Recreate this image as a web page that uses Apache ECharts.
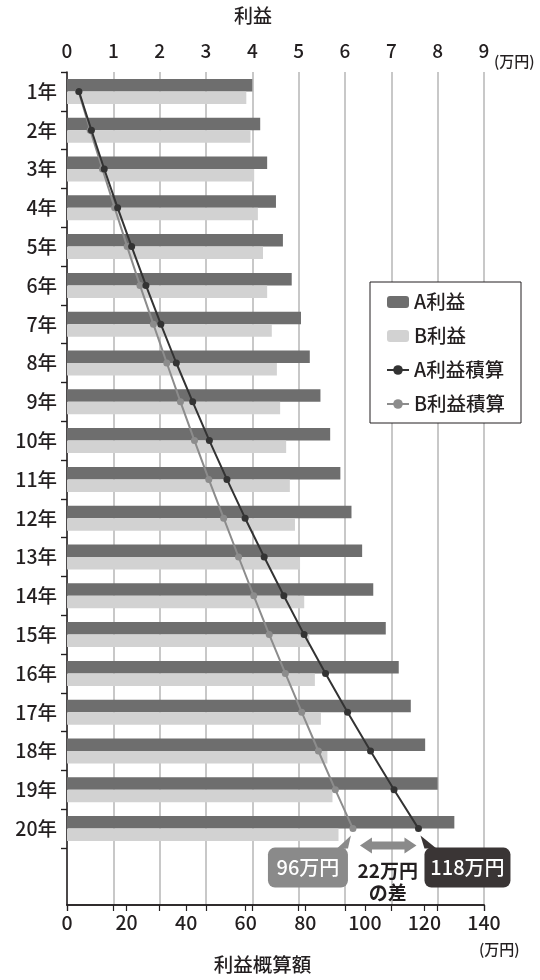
<!DOCTYPE html>
<html><head><meta charset="utf-8">
<script src="https://cdn.jsdelivr.net/npm/echarts@6/dist/echarts.min.js"></script>
<style>html,body{margin:0;padding:0;background:#fff}#c{width:540px;height:980px}</style>
</head><body><div id="c"></div>
<script>
const years = ['1年','2年','3年','4年','5年','6年','7年','8年','9年','10年','11年','12年','13年','14年','15年','16年','17年','18年','19年','20年'];
const profitA = [4.00,4.17,4.32,4.51,4.66,4.85,5.05,5.24,5.47,5.68,5.90,6.14,6.37,6.61,6.88,7.16,7.42,7.73,8.00,8.36];
const profitB = [3.87,3.96,4.04,4.12,4.23,4.32,4.42,4.53,4.60,4.73,4.81,4.92,5.03,5.12,5.23,5.35,5.48,5.62,5.73,5.86];
const cumA = [4.0,8.2,12.5,17.0,21.7,26.5,31.5,36.7,42.2,47.8,53.7,59.8,66.2,72.8,79.6,86.8,94.2,101.9,109.8,118.0];
const cumB = [3.9,7.8,11.9,16.0,20.2,24.5,29.0,33.5,38.1,42.8,47.6,52.6,57.6,62.7,67.9,73.3,78.8,84.4,90.1,96.0];
const topAxis = {min: 0, max: 9, interval: 1};
const bottomAxis = {min: 0, max: 140, interval: 20};
const seriesNames = ['A利益','B利益','A利益積算','B利益積算'];
const annotA = '118万円', annotB = '96万円', annotDiff = ['22万円','の差'];

const FONT = '"Noto Sans CJK JP","Noto Sans",sans-serif';
const INK = '#231f20';
const C_A = '#6e6e6e', C_B = '#d2d2d2', C_LA = '#333333', C_LB = '#8c8c8c', C_GRID = '#c8c8c8';
const LW = 500;

const chart = echarts.init(document.getElementById('c'), null, {renderer: 'canvas'});
const G = {left: 67, right: 56};
const option = {
  animation: false,
  backgroundColor: '#fff',
  textStyle: {fontFamily: FONT, color: INK},
  grid: [
    {left: G.left, right: G.right, top: 72, bottom: 75, outerBoundsMode: 'none', containLabel: false},
    {left: G.left, right: G.right, top: 72, bottom: 132, outerBoundsMode: 'none', containLabel: false}
  ],
  legend: {
    orient: 'vertical', left: 370, top: 282,
    data: seriesNames,
    backgroundColor: '#fff', borderColor: INK, borderWidth: 1, borderRadius: 0,
    padding: [10, 16, 9, 16],
    itemWidth: 22, itemHeight: 12, itemGap: 14,
    textStyle: {fontSize: 19.5, color: INK, lineHeight: 20, fontFamily: FONT, fontWeight: LW},
    selectedMode: false
  },
  xAxis: [
    {gridIndex: 0, type: 'value', position: 'top', min: topAxis.min, max: topAxis.max, interval: topAxis.interval,
     name: '利益', nameLocation: 'middle', nameGap: 47,
     nameTextStyle: {fontSize: 19, color: INK, fontFamily: FONT, fontWeight: LW, padding: [0, 45, 0, 0]},
     axisLine: {show: true, lineStyle: {color: INK, width: 1.5}},
     axisTick: {show: true, inside: true, length: 6, lineStyle: {color: INK, width: 1.2}},
     axisLabel: {fontSize: 19, color: INK, margin: 12, fontFamily: FONT, fontWeight: LW},
     splitLine: {show: true, lineStyle: {color: C_GRID, width: 2}}},
    {gridIndex: 0, type: 'value', position: 'bottom', min: bottomAxis.min, max: bottomAxis.max, interval: bottomAxis.interval,
     name: '利益概算額', nameLocation: 'middle', nameGap: 50,
     nameTextStyle: {fontSize: 19.5, color: INK, fontFamily: FONT, fontWeight: LW, padding: [0, 26, 0, 0]},
     axisLine: {show: true, lineStyle: {color: INK, width: 1.5}},
     axisTick: {show: true, inside: false, length: 6, lineStyle: {color: INK, width: 1.2}},
     axisLabel: {fontSize: 19.5, color: INK, margin: 8, fontFamily: FONT, fontWeight: LW},
     splitLine: {show: false}},
    {gridIndex: 1, type: 'value', show: false, min: topAxis.min, max: topAxis.max},
    {gridIndex: 1, type: 'value', show: false, min: bottomAxis.min, max: bottomAxis.max}
  ],
  yAxis: [
    {gridIndex: 0, type: 'value', min: 0, max: 1,
     axisLine: {show: true, lineStyle: {color: INK, width: 1.5}},
     axisTick: {show: false}, axisLabel: {show: false}, splitLine: {show: false}},
    {gridIndex: 1, type: 'category', data: years, inverse: true,
     axisLine: {show: false},
     axisTick: {show: true, inside: false, length: 6, lineStyle: {color: INK, width: 1.2}},
     axisLabel: {fontSize: 19.5, color: INK, margin: 10, fontFamily: FONT, fontWeight: LW},
     splitLine: {show: false}},
    {gridIndex: 1, type: 'category', data: years, inverse: true,
     axisLine: {show: false},
     axisTick: {show: true, inside: true, length: 6, lineStyle: {color: INK, width: 1.2}},
     axisLabel: {show: false}, splitLine: {show: false}}
  ],
  series: [
    {name: seriesNames[0], type: 'bar', xAxisIndex: 2, yAxisIndex: 1, data: profitA,
     barWidth: 12.5, barGap: '0%', itemStyle: {color: C_A}, z: 2},
    {name: seriesNames[1], type: 'bar', xAxisIndex: 2, yAxisIndex: 1, data: profitB,
     barWidth: 12.5, barGap: '0%', itemStyle: {color: C_B}, z: 2},
    {name: seriesNames[2], type: 'line', xAxisIndex: 3, yAxisIndex: 1,
     data: cumA.map((v, i) => [v, years[i]]),
     symbol: 'circle', symbolSize: 7, lineStyle: {color: C_LA, width: 2}, itemStyle: {color: C_LA}, z: 5},
    {name: seriesNames[3], type: 'line', xAxisIndex: 3, yAxisIndex: 1,
     data: cumB.map((v, i) => [v, years[i]]),
     symbol: 'circle', symbolSize: 7, lineStyle: {color: C_LB, width: 2}, itemStyle: {color: C_LB}, z: 4}
  ]
};
chart.setOption(option);

const last = years.length - 1;
const pA = chart.convertToPixel({xAxisIndex: 3, yAxisIndex: 1}, [cumA[last], years[last]]);
const pB = chart.convertToPixel({xAxisIndex: 3, yAxisIndex: 1}, [cumB[last], years[last]]);
const top0 = chart.convertToPixel({xAxisIndex: 0, yAxisIndex: 0}, [topAxis.max, 1]);
const bot0 = chart.convertToPixel({xAxisIndex: 1, yAxisIndex: 0}, [bottomAxis.max, 0]);
const bt = pB[1] + 19, bh = 40;
const ay = pB[1] + 17, ax1 = pB[0] + 7, ax2 = pA[0] - 2;
chart.setOption({graphic: [
  {type: 'text', left: top0[0] + 10, top: top0[1] - 18, style: {text: '(万円)', fontSize: 15, fill: INK, fontFamily: FONT, fontWeight: LW}},
  {type: 'text', left: bot0[0] - 5, top: bot0[1] + 37, style: {text: '(万円)', fontSize: 15, fill: INK, fontFamily: FONT, fontWeight: LW}},
  {type: 'polygon', shape: {points: [[pB[0]-16, bt+1], [pB[0]-5, bt+1], [pB[0]-2, pB[1]+7]]}, style: {fill: '#8a8a8a'}, z: 10},
  {type: 'rect', shape: {x: pB[0]-85, y: bt, width: 80, height: bh, r: 7}, style: {fill: '#8a8a8a'}, z: 10},
  {type: 'text', x: pB[0]-45, y: bt + bh/2, style: {text: annotB, fontSize: 20, fill: '#fff', fontFamily: FONT, fontWeight: LW, align: 'center', verticalAlign: 'middle'}, z: 11},
  {type: 'polygon', shape: {points: [[pA[0]+6, bt+1], [pA[0]+18, bt+1], [pA[0]+2, pA[1]+7]]}, style: {fill: '#3a3535'}, z: 10},
  {type: 'rect', shape: {x: pA[0]+6, y: bt, width: 86, height: bh, r: 7}, style: {fill: '#3a3535'}, z: 10},
  {type: 'text', x: pA[0]+49, y: bt + bh/2, style: {text: annotA, fontSize: 20, fill: '#fff', fontFamily: FONT, fontWeight: LW, align: 'center', verticalAlign: 'middle'}, z: 11},
  {type: 'polygon', shape: {points: [
     [ax1, ay], [ax1+12, ay-8], [ax1+12, ay-4], [ax2-12, ay-4], [ax2-12, ay-8], [ax2, ay],
     [ax2-12, ay+8], [ax2-12, ay+4], [ax1+12, ay+4], [ax1+12, ay+8]]}, style: {fill: '#8a8a8a'}, z: 10},
  {type: 'text', x: (pA[0]+pB[0])/2 + 2, y: pB[1] + 42, style: {text: annotDiff[0], fontSize: 19, fontWeight: 'bold', fill: INK, fontFamily: FONT, align: 'center', verticalAlign: 'middle'}, z: 11},
  {type: 'text', x: (pA[0]+pB[0])/2 + 2, y: pB[1] + 64, style: {text: annotDiff[1], fontSize: 19, fontWeight: 'bold', fill: INK, fontFamily: FONT, align: 'center', verticalAlign: 'middle'}, z: 11}
]});
</script></body></html>
